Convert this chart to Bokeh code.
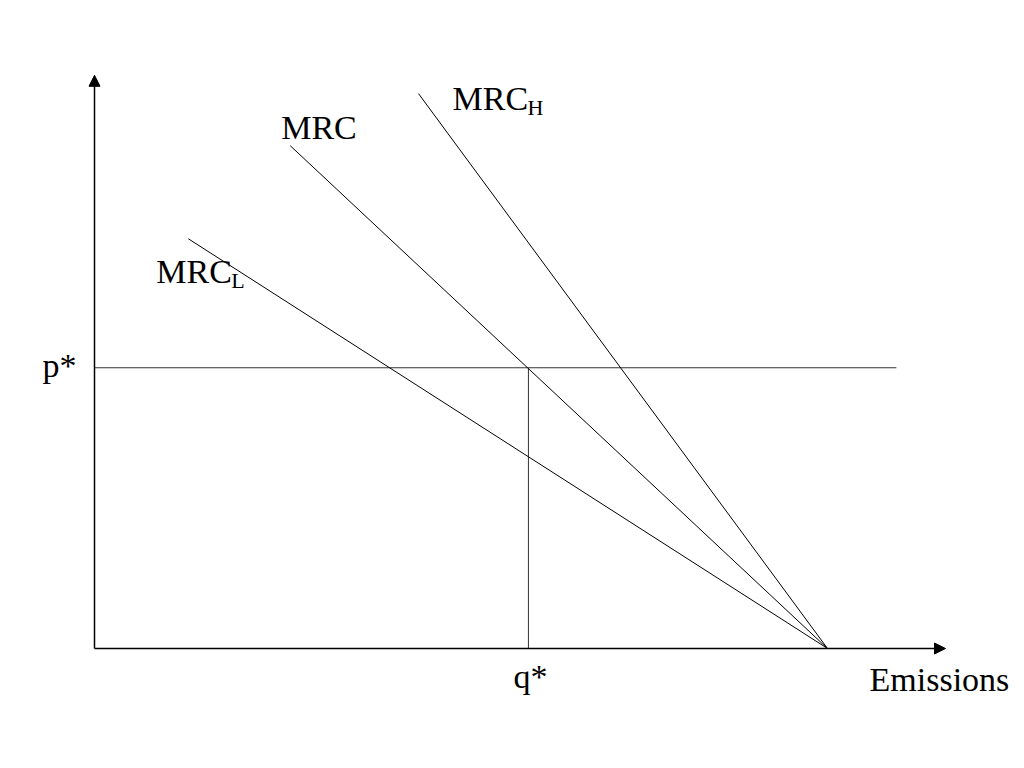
from bokeh.plotting import figure
from bokeh.models import Range1d, Arrow, NormalHead
from bokeh.core.properties import value
from bokeh.embed import file_html
from bokeh.resources import INLINE

# ---- data (abstract units) ----
q_max = 10.0          # emissions where all MRC curves hit zero
p_star = 3.83
q_star = 5.92
curve_names = ["MRC_L", "MRC", "MRC_H"]
curve_top_q = [1.28, 2.67, 4.42]
curve_top_p = [5.59, 6.86, 7.57]
p_line_end = 10.94
x_axis_end = 11.61
y_axis_end = 7.82

S = 73.3  # pixels per unit
W, H = 1016, 752
p = figure(width=W, height=H, output_backend="svg", toolbar_location=None,
           x_range=Range1d(-94 / S, (W - 94) / S),
           y_range=Range1d((648 - H) / S, 648 / S),
           min_border=0)
p.axis.visible = False
p.grid.visible = False
p.outline_line_color = None
p.background_fill_color = "white"

font = value("Liberation Serif")
FS = "34px"
DY = -12  # baseline correction

# axes with arrows
for (x0, y0, x1, y1) in [(0, 0, x_axis_end, 0), (0, 0, 0, y_axis_end)]:
    p.add_layout(Arrow(x_start=x0, y_start=y0, x_end=x1, y_end=y1,
                       line_color="black", line_width=1.5,
                       end=NormalHead(size=11, fill_color="black", line_color="black")))

# p* and q* lines
p.line([0, p_line_end], [p_star, p_star], line_color="#333333", line_width=1)
p.line([q_star, q_star], [0, p_star], line_color="#333333", line_width=1)

# MRC curves
for tq, tp in zip(curve_top_q, curve_top_p):
    p.line([tq, q_max], [tp, 0], line_color="black", line_width=1)

# curve labels
label_off = {"MRC_L": (-32, 45), "MRC": (-9, -6), "MRC_H": (34, 17)}
for name, tq, tp in zip(curve_names, curve_top_q, curve_top_p):
    dx, dy = label_off[name]
    p.text(x=[tq], y=[tp], text=["MRC"], x_offset=dx, y_offset=dy + DY,
           text_font=font, text_font_size=FS, text_baseline="alphabetic",
           text_align="left", text_color="black")
    if "_" in name:
        sub = name.split("_")[1]
        p.text(x=[tq], y=[tp], text=[sub], x_offset=dx + 75, y_offset=dy + 9 + DY,
               text_font=font, text_font_size="22px", text_baseline="alphabetic",
               text_align="left", text_color="black")

p.text(x=[0], y=[p_star], text=["p*"], x_offset=-18, y_offset=10 + DY,
       text_font=font, text_font_size=FS, text_baseline="alphabetic",
       text_align="right", text_color="black")
p.text(x=[q_star], y=[0], text=["q*"], x_offset=2, y_offset=40 + DY,
       text_font=font, text_font_size=FS, text_baseline="alphabetic",
       text_align="center", text_color="black")
p.text(x=[x_axis_end], y=[0], text=["Emissions"], x_offset=-76, y_offset=43 + DY,
       text_font=font, text_font_size=FS, text_baseline="alphabetic",
       text_align="left", text_color="black")

open("out.html", "w").write(file_html(p, INLINE))
